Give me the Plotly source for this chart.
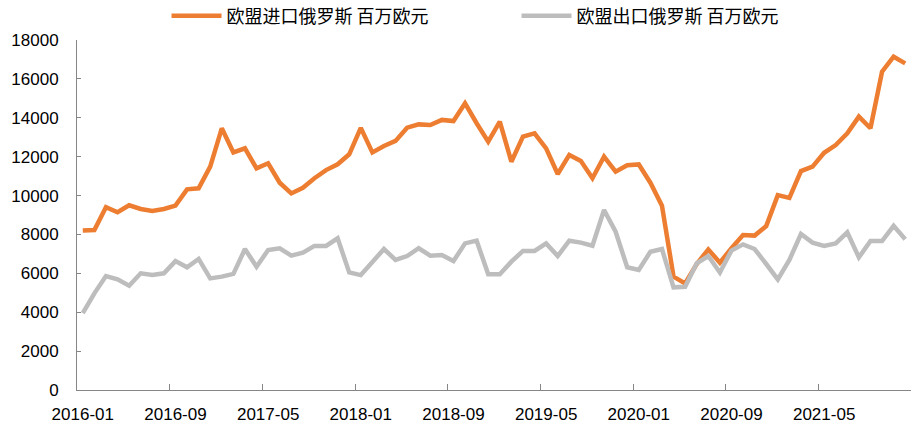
import plotly.graph_objects as go

months = [f"{y}-{m:02d}" for y in range(2016, 2022) for m in range(1, 13)]

imports_eu = [
    8200, 8230, 9400, 9140, 9500, 9310, 9210, 9310, 9480, 10320, 10370, 11490,
    13460, 12220, 12430, 11400, 11660, 10660, 10110, 10400, 10890, 11310, 11610, 12120,
    13480, 12220, 12550, 12810, 13490, 13660, 13630, 13890, 13830, 14740, 13720, 12770,
    13800, 11740, 13030, 13200, 12430, 11110, 12090, 11780, 10890, 12000, 11230, 11560,
    11600, 10660, 9480, 5830, 5480, 6480, 7230, 6550, 7290, 7970, 7940, 8430,
    10020, 9880, 11260, 11490, 12200, 12600, 13200, 14060, 13460, 16370, 17140, 16800,
]

exports_eu = [
    3950, 4970, 5860, 5690, 5360, 6000, 5910, 6000, 6630, 6310, 6740, 5740,
    5830, 5970, 7250, 6340, 7200, 7290, 6910, 7060, 7410, 7410, 7800, 6050,
    5910, 6600, 7250, 6690, 6890, 7290, 6910, 6940, 6630, 7540, 7680, 5950,
    5950, 6600, 7150, 7150, 7540, 6890, 7680, 7580, 7420, 9260, 8140, 6310,
    6170, 7110, 7250, 5280, 5310, 6520, 6890, 6040, 7170, 7490, 7250, 6480,
    5690, 6690, 8020, 7580, 7410, 7540, 8110, 6820, 7660, 7660, 8440, 7750,
]

name_imp = "欧盟进口俄罗斯 百万欧元"
name_exp = "欧盟出口俄罗斯 百万欧元"

ORANGE = "#ED7D31"
GRAY = "#BDBDBD"
AXIS = "#868686"
TICKFONT = dict(family="Liberation Sans, Arial, sans-serif", size=17, color="#000000")

fig = go.Figure()
fig.add_trace(go.Scatter(x=months, y=imports_eu, mode="lines", name=name_imp,
                         line=dict(color=ORANGE, width=4.5)))
fig.add_trace(go.Scatter(x=months, y=exports_eu, mode="lines", name=name_exp,
                         line=dict(color=GRAY, width=4.5)))

fig.update_layout(
    width=920, height=425,
    margin=dict(l=77, r=9, t=40, b=35, autoexpand=False),
    paper_bgcolor="white", plot_bgcolor="white",
    showlegend=True,
    legend=dict(orientation="h", xref="container", yref="container",
                x=0.181, xanchor="left", y=0.962, yanchor="middle",
                font=dict(family="Noto Sans CJK SC", size=18, color="#000000"),
                itemwidth=50,
                entrywidth=285, entrywidthmode="pixels",
                bgcolor="rgba(0,0,0,0)"),
    xaxis=dict(type="category", range=[-0.5, 71.5], tickmode="linear", tick0=0, dtick=8,
               tickson="boundaries", ticks="inside", ticklen=6, tickcolor=AXIS,
               showline=True, linecolor=AXIS, linewidth=1, showgrid=False,
               tickfont=TICKFONT, tickangle=0, automargin=False, ticklabelstandoff=9),
    yaxis=dict(range=[0, 18000], dtick=2000, tickformat="d", ticks="inside", ticklen=4,
               tickcolor=AXIS, showline=True, linecolor=AXIS, linewidth=1, showgrid=False,
               zeroline=False, tickfont=TICKFONT, automargin=False, ticklabelstandoff=14),
)

fig.write_html("out.html", config={"displayModeBar": False},
               post_script="document.body.style.margin='0';")
